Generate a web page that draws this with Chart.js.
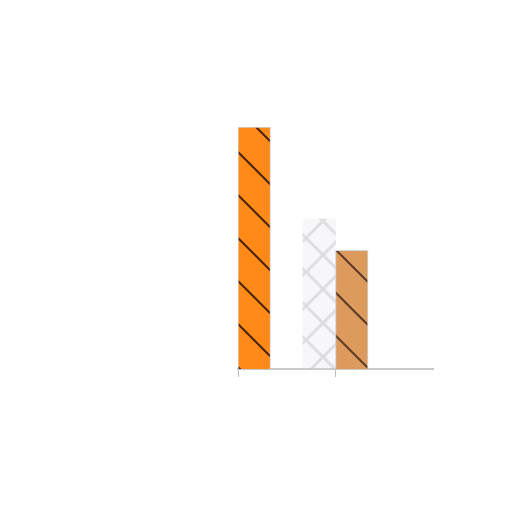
<!DOCTYPE html>
<html>
<head>
<meta charset="utf-8">
<script src="https://cdn.jsdelivr.net/npm/chart.js@4/dist/chart.umd.min.js"></script>
<style>
html,body{margin:0;padding:0;background:#fff;}
#wrap{width:512px;height:512px;}
</style>
</head>
<body>
<div id="wrap"><canvas id="c" width="512" height="512"></canvas></div>
<script>
const categories = ['A', 'B'];
const seriesMain = [100, 49];
const seriesEmpty = [null, null];
const seriesGhost = [62, null];
const yMax = 100;

function stripePattern(fill, line) {
  const s = 43;
  const c = document.createElement('canvas');
  c.width = s; c.height = s;
  const x = c.getContext('2d');
  x.fillStyle = fill;
  x.fillRect(0, 0, s, s);
  x.strokeStyle = line;
  x.lineWidth = 2;
  x.beginPath();
  x.moveTo(-2, -2); x.lineTo(s + 2, s + 2);
  x.moveTo(-2, s - 2); x.lineTo(2, s + 2);
  x.moveTo(s - 2, -2); x.lineTo(s + 2, 2);
  x.stroke();
  return x.createPattern(c, 'repeat');
}
function crossPattern() {
  const s = 34;
  const c = document.createElement('canvas');
  c.width = s; c.height = s;
  const x = c.getContext('2d');
  x.fillStyle = 'rgba(225,225,230,0.25)';
  x.fillRect(0, 0, s, s);
  x.strokeStyle = 'rgba(185,185,190,0.4)';
  x.lineWidth = 3;
  x.beginPath();
  x.moveTo(0, 0); x.lineTo(s, s);
  x.moveTo(s, 0); x.lineTo(0, s);
  x.stroke();
  return x.createPattern(c, 'repeat');
}

const orange = stripePattern('#ff8a17', '#4a2210');
const tan = stripePattern('#dc9a5c', '#5a3a28');
const ghost = crossPattern();

new Chart(document.getElementById('c'), {
  type: 'bar',
  data: {
    labels: categories,
    datasets: [
      { data: seriesMain, backgroundColor: [orange, tan], borderColor: 'rgba(200,200,200,0.8)', borderWidth: 1 },
      { data: seriesEmpty, backgroundColor: 'transparent' },
      { data: seriesGhost, backgroundColor: ghost, borderWidth: 0 }
    ]
  },
  options: {
    responsive: false,
    animation: false,
    devicePixelRatio: 1,
    layout: { padding: { left: 238, right: 79, top: 127, bottom: 135 } },
    plugins: { legend: { display: false }, tooltip: { enabled: false } },
    datasets: { bar: { categoryPercentage: 1, barPercentage: 1 } },
    scales: {
      x: {
        display: true,
        grid: {
          drawOnChartArea: false,
          color: (ctx) => (ctx.type === 'tick') ? 'rgba(175,175,175,0.8)' : 'rgba(0,0,0,0)',
          tickLength: 8,
          offset: true
        },
        border: { color: 'rgba(195,195,195,0.9)', width: 2 },
        ticks: { display: false }
      },
      y: { display: false, min: 0, max: yMax }
    }
  }
});
</script>
</body>
</html>
